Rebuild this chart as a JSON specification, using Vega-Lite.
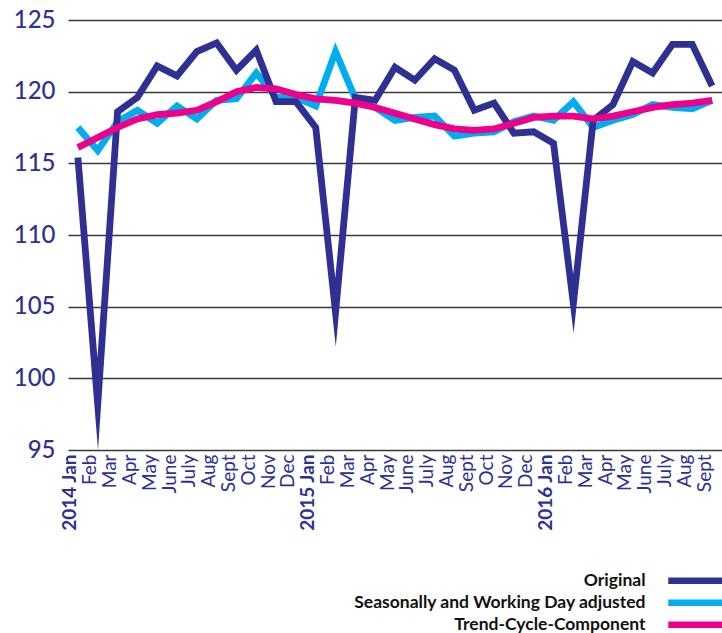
{
  "$schema": "https://vega.github.io/schema/vega-lite/v6.json",
  "width": 654,
  "height": 430,
  "autosize": {"type": "none"},
  "padding": {"left": 68, "top": 20, "right": 0, "bottom": 183},
  "background": "white",
  "config": {"view": {"stroke": null}, "font": "Lato"},
  "data": {"values": [
    {"m":"2014-01","Original":115.4,"Seasonally and Working Day adjusted":117.5,"Trend-Cycle-Component":116.1},
    {"m":"2014-02","Original":98.2,"Seasonally and Working Day adjusted":115.9,"Trend-Cycle-Component":116.8},
    {"m":"2014-03","Original":118.6,"Seasonally and Working Day adjusted":117.9,"Trend-Cycle-Component":117.5},
    {"m":"2014-04","Original":119.6,"Seasonally and Working Day adjusted":118.7,"Trend-Cycle-Component":118.1},
    {"m":"2014-05","Original":121.8,"Seasonally and Working Day adjusted":117.8,"Trend-Cycle-Component":118.4},
    {"m":"2014-06","Original":121.1,"Seasonally and Working Day adjusted":119.0,"Trend-Cycle-Component":118.5},
    {"m":"2014-07","Original":122.8,"Seasonally and Working Day adjusted":118.1,"Trend-Cycle-Component":118.7},
    {"m":"2014-08","Original":123.4,"Seasonally and Working Day adjusted":119.4,"Trend-Cycle-Component":119.3},
    {"m":"2014-09","Original":121.5,"Seasonally and Working Day adjusted":119.5,"Trend-Cycle-Component":120.0},
    {"m":"2014-10","Original":122.9,"Seasonally and Working Day adjusted":121.3,"Trend-Cycle-Component":120.3},
    {"m":"2014-11","Original":119.3,"Seasonally and Working Day adjusted":119.6,"Trend-Cycle-Component":120.2},
    {"m":"2014-12","Original":119.3,"Seasonally and Working Day adjusted":119.6,"Trend-Cycle-Component":119.8},
    {"m":"2015-01","Original":117.5,"Seasonally and Working Day adjusted":119.0,"Trend-Cycle-Component":119.5},
    {"m":"2015-02","Original":104.6,"Seasonally and Working Day adjusted":122.8,"Trend-Cycle-Component":119.4},
    {"m":"2015-03","Original":119.6,"Seasonally and Working Day adjusted":119.5,"Trend-Cycle-Component":119.2},
    {"m":"2015-04","Original":119.4,"Seasonally and Working Day adjusted":118.9,"Trend-Cycle-Component":118.9},
    {"m":"2015-05","Original":121.7,"Seasonally and Working Day adjusted":118.0,"Trend-Cycle-Component":118.5},
    {"m":"2015-06","Original":120.8,"Seasonally and Working Day adjusted":118.2,"Trend-Cycle-Component":118.1},
    {"m":"2015-07","Original":122.3,"Seasonally and Working Day adjusted":118.3,"Trend-Cycle-Component":117.7},
    {"m":"2015-08","Original":121.5,"Seasonally and Working Day adjusted":116.9,"Trend-Cycle-Component":117.4},
    {"m":"2015-09","Original":118.7,"Seasonally and Working Day adjusted":117.1,"Trend-Cycle-Component":117.3},
    {"m":"2015-10","Original":119.2,"Seasonally and Working Day adjusted":117.2,"Trend-Cycle-Component":117.4},
    {"m":"2015-11","Original":117.1,"Seasonally and Working Day adjusted":117.9,"Trend-Cycle-Component":117.8},
    {"m":"2015-12","Original":117.2,"Seasonally and Working Day adjusted":118.3,"Trend-Cycle-Component":118.2},
    {"m":"2016-01","Original":116.4,"Seasonally and Working Day adjusted":118.0,"Trend-Cycle-Component":118.3},
    {"m":"2016-02","Original":105.2,"Seasonally and Working Day adjusted":119.3,"Trend-Cycle-Component":118.3},
    {"m":"2016-03","Original":118.0,"Seasonally and Working Day adjusted":117.5,"Trend-Cycle-Component":118.1},
    {"m":"2016-04","Original":119.1,"Seasonally and Working Day adjusted":118.0,"Trend-Cycle-Component":118.3},
    {"m":"2016-05","Original":122.1,"Seasonally and Working Day adjusted":118.4,"Trend-Cycle-Component":118.6},
    {"m":"2016-06","Original":121.3,"Seasonally and Working Day adjusted":119.1,"Trend-Cycle-Component":118.9},
    {"m":"2016-07","Original":123.3,"Seasonally and Working Day adjusted":118.9,"Trend-Cycle-Component":119.1},
    {"m":"2016-08","Original":123.3,"Seasonally and Working Day adjusted":118.8,"Trend-Cycle-Component":119.2},
    {"m":"2016-09","Original":120.4,"Seasonally and Working Day adjusted":119.4,"Trend-Cycle-Component":119.4}
  ]},
  "transform": [
    {"fold": ["Seasonally and Working Day adjusted", "Original", "Trend-Cycle-Component"], "as": ["series", "value"]}
  ],
  "mark": {"type": "line", "strokeWidth": 6.8, "strokeJoin": "miter", "strokeMiterLimit": 100, "strokeCap": "butt"},
  "encoding": {
    "x": {
      "field": "m", "type": "ordinal",
      "scale": {"type": "point", "padding": 0.5},
      "axis": {
        "title": null, "domain": false, "ticks": false, "grid": false,
        "labelAngle": -90, "labelPadding": 4, "labelOffset": -8,
        "labelFontSize": 19, "labelColor": "#2e3192", "labelFont": "Lato",
        "labelOverlap": false,
        "labelFontWeight": {"condition": {"test": "substring(datum.value,5,7)=='01'", "value": "bold"}, "value": "normal"},
        "labelExpr": "(substring(datum.value,5,7)=='01' ? substring(datum.value,0,4)+' ' : '') + ['Jan','Feb','Mar','Apr','May','June','July','Aug','Sept','Oct','Nov','Dec'][toNumber(substring(datum.value,5,7))-1]"
      }
    },
    "y": {
      "field": "value", "type": "quantitative",
      "scale": {"domain": [95, 125], "nice": false, "zero": false},
      "axis": {
        "title": null, "domain": false, "ticks": false, "values": [95, 100, 105, 110, 115, 120, 125],
        "grid": true, "gridColor": "#3a3a3a", "gridWidth": 1.5, "gridOpacity": 1,
        "labelFontSize": 24, "labelFontWeight": 500, "labelColor": "#2e3192", "labelFont": "Lato", "labelPadding": 13
      }
    },
    "color": {
      "field": "series", "type": "nominal",
      "scale": {
        "domain": ["Original", "Seasonally and Working Day adjusted", "Trend-Cycle-Component"],
        "range": ["#2e3192", "#00aeef", "#ec008c"]
      },
      "legend": {
        "title": null, "orient": "none", "legendX": 620, "legendY": 552, "padding": 0,
        "symbolType": "M-5.7,0H5.7", "symbolSize": 100, "symbolStrokeWidth": 6.5,
        "labelAlign": "right", "labelOffset": -60, "labelFont": "Lato", "labelFontSize": 17.5,
        "labelFontWeight": "bold", "labelColor": "#111111", "rowPadding": -9, "labelLimit": 500
      }
    }
  }
}
